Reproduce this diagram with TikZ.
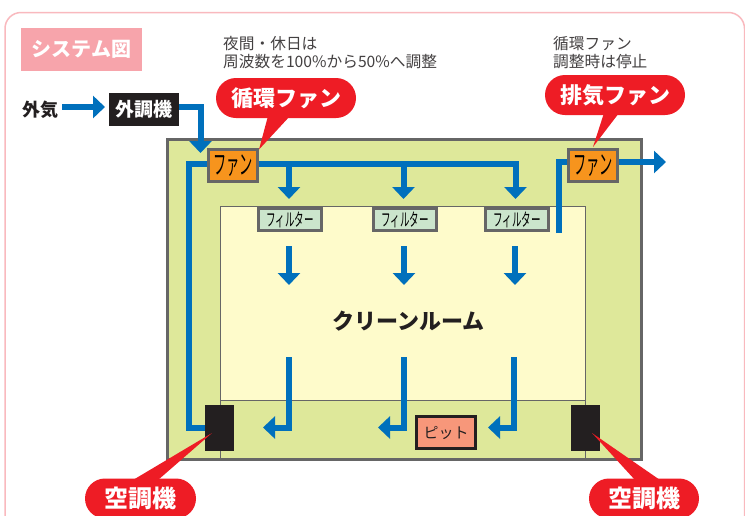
\documentclass[tikz,border=0pt]{standalone}
\usepackage{fontspec}
\usepackage{graphicx}
\setmainfont{Noto Sans CJK JP}
\usetikzlibrary{arrows.meta}
\definecolor{pipeblue}{HTML}{0070BC}
\definecolor{outergreen}{HTML}{DEE89A}
\definecolor{roomyellow}{HTML}{FEFBCB}
\definecolor{wallgray}{HTML}{666666}
\definecolor{fanorange}{HTML}{F7941D}
\definecolor{filtergreen}{HTML}{CBE5CC}
\definecolor{calloutred}{HTML}{EE1C25}
\definecolor{inkblack}{HTML}{231F20}
\definecolor{framepink}{HTML}{F9B9BE}
\definecolor{titlepink}{HTML}{F7A4AB}
\definecolor{pitsalmon}{HTML}{F7977A}
\tikzset{
  pipe/.style={draw=pipeblue,line width=6pt},
  pipearrow/.style={pipe,-{Triangle[length=12pt,width=22pt]}},
  fanbox/.style={draw=wallgray,line width=3pt,fill=fanorange,minimum width=49pt,minimum height=32pt,inner sep=0pt},
  filterbox/.style={draw=wallgray,line width=3pt,fill=filtergreen,minimum width=63pt,minimum height=22pt,inner sep=0pt},
  acbox/.style={fill=inkblack,minimum width=29pt,minimum height=46pt,inner sep=0pt},
  callout/.style={fill=calloutred,text=white,rounded corners=20pt,minimum height=40pt,inner sep=0pt,font=\fontsize{22}{24}\selectfont\bfseries},
  tail/.style={fill=calloutred},
  note/.style={anchor=west,inner sep=0pt,text=inkblack!85,font=\fontsize{15.7}{18}\selectfont},
}
\newcommand{\fanlabel}{\scalebox{0.49}[1]{\fontsize{27}{27}\selectfont ファン}}
\newcommand{\filterlabel}{\scalebox{0.53}[1]{\fontsize{18}{18}\selectfont フィルター}}
\begin{document}
\begin{tikzpicture}[x=1pt,y=-1pt]
\useasboundingbox (0,0) rectangle (745,515);
\clip (0,0) rectangle (745,515);
\fill[white] (0,0) rectangle (745,515);
% frame
\draw[framepink,line width=1.5pt,rounded corners=16pt] (5,560) -- (5,12.5) -- (744.5,12.5) -- (744.5,560);
% title
\node[fill=titlepink,text=white,minimum width=121pt,minimum height=43pt,inner sep=0pt,font=\fontsize{20}{22}\selectfont\bfseries] (title) at (81.5,49.5) {システム図};
% notes
\node[note] (noteA) at (223,43.5) {夜間・休日は};
\node[note] (noteB) at (223,61.5) {周波数を100\%から50\%へ調整};
\node[note] (noteC) at (553,43.5) {循環ファン};
\node[note] (noteD) at (553,61.5) {調整時は停止};
% building
\draw[wallgray,line width=3pt,fill=outergreen] (167.5,139.5) rectangle (641.5,459.5);
\draw[wallgray,line width=1pt,fill=roomyellow] (220.5,206.5) rectangle (585.5,400.5);
\draw[wallgray,line width=1pt] (220.5,400.5) -- (220.5,459) (585.5,400.5) -- (585.5,459);
\node[inner sep=0pt,font=\fontsize{22}{24}\selectfont\bfseries,text=inkblack] (room) at (408.5,321.5) {クリーンルーム};
% outside air
\node[inner sep=0pt,font=\fontsize{18}{20}\selectfont\bfseries,text=inkblack] (air) at (40.5,109.5) {外気};
\node[fill=inkblack,text=white,minimum width=70pt,minimum height=33pt,inner sep=0pt,font=\fontsize{19}{20}\selectfont\bfseries] (oac) at (144,109.5) {外調機};
% named free points
\coordinate (airS) at (62,107);
\coordinate (airE) at (105,107);
\coordinate (oacS) at (179,107);
\coordinate (oacK) at (200.5,107);
\coordinate (oacE) at (200.5,153);
\coordinate (busW) at (189,163.5);
\coordinate (busM1) at (289,163.5);
\coordinate (busM2) at (403.5,163.5);
\coordinate (busE) at (515.5,163.5);
\coordinate (d1) at (289,199);
\coordinate (d2) at (403.5,199);
\coordinate (d3) at (515.5,199);
\coordinate (exK) at (559,162);
\coordinate (exS) at (559,233);
\coordinate (exE) at (666,162);
\coordinate (acK) at (189,428);
% main pipes
\draw[pipearrow] (airS) -- (airE);
\draw[pipearrow] (oacS) -- (oacK) -- (oacE);
\draw[pipe] (210,163.5) -- (busW) -- (acK) -- (210,428);
\draw[pipe] (255,163.5) -- (busE) -- (515.5,188);
\draw[pipearrow] (busM1) -- (d1);
\draw[pipearrow] (busM2) -- (d2);
\draw[pipearrow] (busE) -- (d3);
\draw[pipe] (exS) -- (exK) -- (570,162);
\draw[pipearrow] (615,162) -- (exE);
% room arrows
\coordinate (r1) at (289,246); \coordinate (r1e) at (289,285);
\coordinate (r2) at (404,246); \coordinate (r2e) at (404,285);
\coordinate (r3) at (515,246); \coordinate (r3e) at (515,285);
\draw[pipearrow] (r1) -- (r1e);
\draw[pipearrow] (r2) -- (r2e);
\draw[pipearrow] (r3) -- (r3e);
% returns
\draw[pipearrow] (289,357) -- (289,427.5) -- (263,427.5);
\draw[pipearrow] (403.5,357) -- (403.5,427.5) -- (378,427.5);
\draw[pipearrow] (514,357) -- (514,427.5) -- (488,427.5);
\fill[pipeblue] (286,425) rectangle (292,431);
\fill[pipeblue] (400.5,425) rectangle (406.5,431);
\fill[pipeblue] (511,425) rectangle (517,431);
% equipment
\node[fanbox] (fanA) at (233,165.5) {\fanlabel};
\node[fanbox] (fanB) at (593,165.5) {\fanlabel};
\node[filterbox] (fil1) at (290,219.5) {\filterlabel};
\node[filterbox] (fil2) at (405,219.5) {\filterlabel};
\node[filterbox] (fil3) at (517,219.5) {\filterlabel};
\node[acbox] (acL) at (219.5,428) {};
\node[acbox] (acR) at (585.5,428) {};
\node[draw=inkblack,line width=3pt,fill=pitsalmon,minimum width=59pt,minimum height=32pt,inner sep=0pt,text=inkblack,font=\fontsize{15}{16}\selectfont] (pit) at (446,432.5) {ピット};
% callouts
\fill[tail] (268,116) -- (259,149.5) -- (290,116) -- cycle;
\fill[tail] (604,113) -- (593,147) -- (619,113) -- cycle;
\fill[tail] (133,480) -- (212,433) -- (158,480) -- cycle;
\fill[tail] (635,480) -- (592,433) -- (660,480) -- cycle;
\node[callout,minimum width=140pt] (cA) at (286,98) {循環ファン};
\node[callout,minimum width=140pt] (cB) at (615,95) {排気ファン};
\node[callout,minimum width=111pt,font=\fontsize{24}{26}\selectfont\bfseries] (cC) at (140.5,498.5) {空調機};
\node[callout,minimum width=110pt,font=\fontsize{24}{26}\selectfont\bfseries] (cD) at (644,498.5) {空調機};
\end{tikzpicture}
\end{document}
